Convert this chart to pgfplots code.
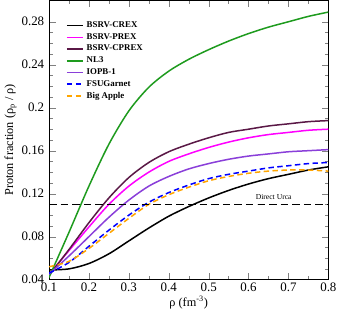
\documentclass[border=0pt]{standalone}
\usepackage{fontspec}
\setmainfont{Liberation Serif}
\usepackage{pgfplots}
\pgfplotsset{compat=1.18}
\definecolor{cprex}{RGB}{90,24,70}
\definecolor{prex}{RGB}{255,0,255}
\definecolor{nlgreen}{RGB}{30,155,30}
\definecolor{iopb}{RGB}{138,63,217}
\definecolor{bigapple}{RGB}{255,165,0}

\begin{document}
\begin{tikzpicture}
\begin{axis}[scale only axis,width=205pt,height=205pt,
xmin=0.1,xmax=0.8,ymin=0.04,ymax=0.30,
xtick={0.1,0.2,0.3,0.4,0.5,0.6,0.7,0.8},
xticklabels={0.1,0.2,0.3,0.4,0.5,0.6,0.7,0.8},
ytick={0.04,0.08,0.12,0.16,0.2,0.24,0.28},
yticklabels={0.04,0.08,0.12,0.16,0.2,0.24,0.28},
minor x tick num=1,minor y tick num=3,
major tick length=5pt,minor tick length=2.8pt,tick align=inside,
tick label style={font=\fontsize{9.5}{10}\selectfont},
xticklabel style={yshift=1pt},
xlabel={ρ (fm\textsuperscript{-3})},
ylabel={Proton fraction (ρ\textsubscript{p} / ρ)},
label style={font=\fontsize{9}{10}\selectfont},
xlabel style={yshift=4pt},ylabel style={yshift=-3pt},
legend style={draw=none,fill=none,at={(0.046,0.944)},anchor=north west,
font=\bfseries\fontsize{6.5}{7.2}\selectfont,row sep=-1.2pt},
legend cell align=left,
legend image code/.code={\draw[line width=1.1pt,#1] (0,0) -- (0.42cm,0);},
every axis plot/.append style={line width=1.1pt,smooth}]
\addplot[black] coordinates {(0.1,0.049) (0.15,0.050) (0.2,0.055) (0.25,0.064) (0.3,0.076) (0.35,0.088) (0.4,0.099) (0.45,0.108) (0.5,0.116) (0.55,0.123) (0.6,0.129) (0.65,0.134) (0.7,0.138) (0.75,0.142) (0.8,0.145)};
\addlegendentry{BSRV-CREX}
\addplot[prex] coordinates {(0.1,0.045) (0.15,0.067) (0.2,0.089) (0.25,0.110) (0.3,0.127) (0.35,0.140) (0.4,0.150) (0.45,0.157) (0.5,0.163) (0.55,0.168) (0.6,0.172) (0.65,0.175) (0.7,0.177) (0.75,0.179) (0.8,0.180)};
\addlegendentry{BSRV-PREX}
\addplot[cprex] coordinates {(0.1,0.044) (0.15,0.068) (0.2,0.093) (0.25,0.116) (0.3,0.135) (0.35,0.149) (0.4,0.159) (0.45,0.166) (0.5,0.172) (0.55,0.177) (0.6,0.180) (0.65,0.183) (0.7,0.185) (0.75,0.187) (0.8,0.188)};
\addlegendentry{BSRV-CPREX}
\addplot[nlgreen] coordinates {(0.1,0.042) (0.15,0.084) (0.2,0.127) (0.25,0.166) (0.3,0.197) (0.35,0.219) (0.4,0.234) (0.45,0.245) (0.5,0.254) (0.55,0.262) (0.6,0.269) (0.65,0.275) (0.7,0.280) (0.75,0.285) (0.8,0.289)};
\addlegendentry{NL3}
\addplot[iopb] coordinates {(0.1,0.045) (0.15,0.062) (0.2,0.080) (0.25,0.098) (0.3,0.114) (0.35,0.127) (0.4,0.136) (0.45,0.143) (0.5,0.148) (0.55,0.152) (0.6,0.155) (0.65,0.157) (0.7,0.159) (0.75,0.160) (0.8,0.161)};
\addlegendentry{IOPB-1}
\addplot[blue,dash pattern=on 4pt off 2.5pt] coordinates {(0.1,0.046) (0.15,0.056) (0.2,0.071) (0.25,0.086) (0.3,0.100) (0.35,0.112) (0.4,0.121) (0.45,0.128) (0.5,0.134) (0.55,0.138) (0.6,0.141) (0.65,0.144) (0.7,0.146) (0.75,0.148) (0.8,0.149)};
\addlegendentry{FSUGarnet}
\addplot[bigapple,dash pattern=on 4pt off 2.5pt] coordinates {(0.1,0.052) (0.15,0.057) (0.2,0.069) (0.25,0.083) (0.3,0.097) (0.35,0.110) (0.4,0.119) (0.45,0.126) (0.5,0.132) (0.55,0.136) (0.6,0.139) (0.65,0.141) (0.7,0.142) (0.75,0.142) (0.8,0.141)};
\addlegendentry{Big Apple}
\addplot[black,line width=1pt,dash pattern=on 5.5pt off 3pt,forget plot] coordinates {(0.1,0.11) (0.8,0.11)};
\node[font=\fontsize{5.6}{6}\selectfont] at (axis cs:0.663,0.117) {Direct Urca};
\end{axis}
\end{tikzpicture}
\end{document}
